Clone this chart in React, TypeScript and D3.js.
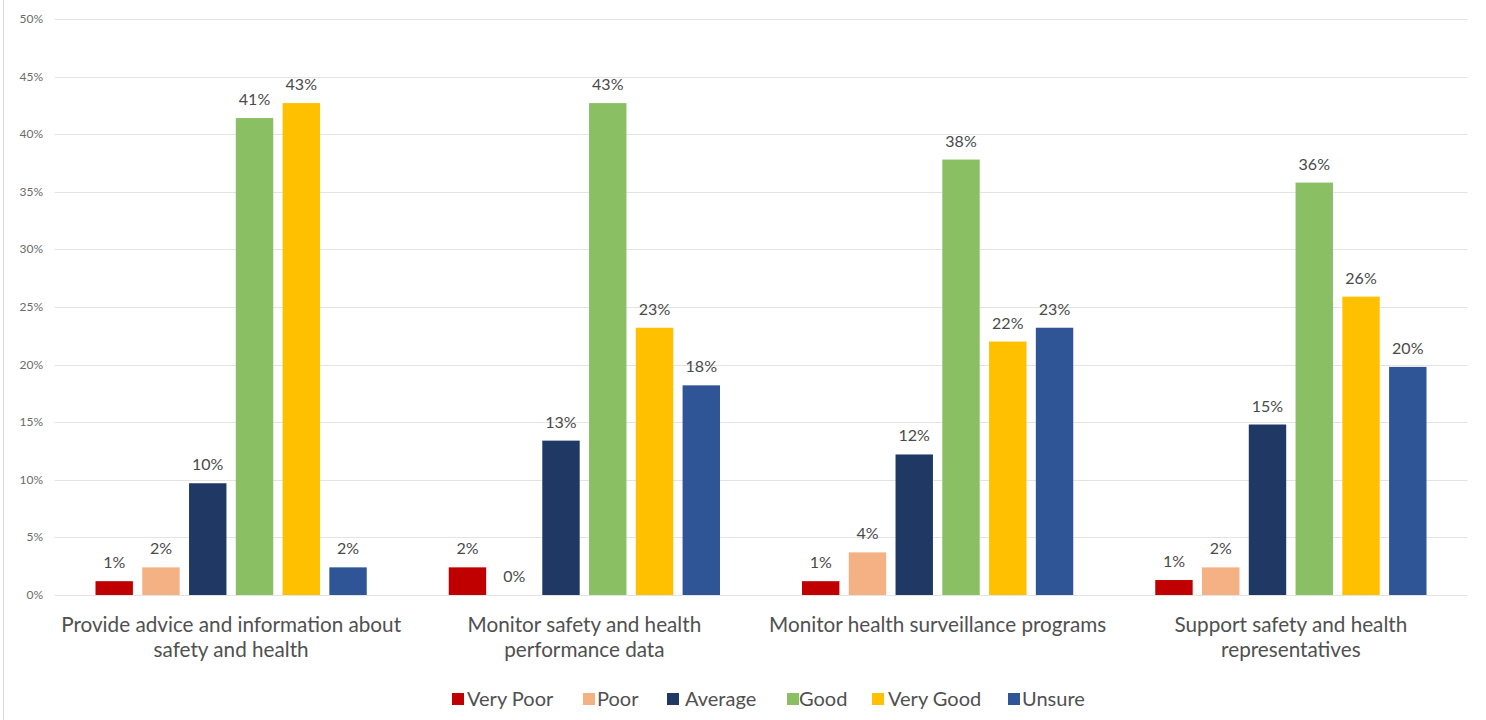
import React from "react";
import * as d3 from "d3";

const categories: string[][] = [
  ["Provide advice and information about", "safety and health"],
  ["Monitor safety and health", "performance data"],
  ["Monitor health surveillance programs"],
  ["Support safety and health", "representatives"],
];
const seriesNames = ["Very Poor", "Poor", "Average", "Good", "Very Good", "Unsure"];
const seriesColors = ["#C00000", "#F4B183", "#203864", "#8BBF63", "#FFC000", "#2F5597"];
const veryPoor = [1.2, 2.4, 1.2, 1.3];
const poor = [2.4, 0, 3.7, 2.4];
const average = [9.7, 13.4, 12.2, 14.8];
const good = [41.4, 42.7, 37.8, 35.8];
const veryGood = [42.7, 23.2, 22.0, 25.9];
const unsure = [2.4, 18.2, 23.2, 19.8];
const yTicks = [0, 5, 10, 15, 20, 25, 30, 35, 40, 45, 50];

const seriesValues = [veryPoor, poor, average, good, veryGood, unsure];

const W = 1486;
const H = 720;
const FONT = "Lato, 'Open Sans', sans-serif";

export default function App() {
  const x0 = d3.scaleBand<number>().domain(d3.range(categories.length)).range([54.5, 1467.5]).padding(0);
  const bw = x0.bandwidth();
  const x1 = d3
    .scaleBand<number>()
    .domain(d3.range(seriesNames.length))
    .range([41, bw - 41])
    .paddingInner(0.2)
    .paddingOuter(0);
  const y = d3.scaleLinear().domain([0, 50]).range([595, 19]);

  const legendSq = [452, 583, 667, 787, 872, 1008];
  const legendTx = [467, 597, 685, 799, 888, 1022];

  return (
    <svg
      width={W}
      height={H}
      style={{ position: "absolute", left: 0, top: 0, background: "#fff", fontFamily: FONT }}
    >
      <rect x={0} y={0} width={W} height={H} fill="#fff" />
      <line x1={3.5} x2={3.5} y1={0} y2={H} stroke="#D9D9D9" strokeWidth={1} />
      {yTicks.map((t) => (
        <g key={t}>
          <line x1={54.5} x2={1467.5} y1={Math.round(y(t)) + 0.5} y2={Math.round(y(t)) + 0.5} stroke="#E3E3E3" strokeWidth={1} />
          <text x={43} y={y(t) + 4} textAnchor="end" fontSize={12} fill="#6B6B6B">
            {t}%
          </text>
        </g>
      ))}
      {categories.map((cat, ci) => (
        <g key={ci} transform={`translate(${x0(ci)},0)`}>
          {seriesValues.map((vals, si) => {
            const v = vals[ci];
            const bx = x1(si)!;
            return (
              <g key={si}>
                <rect x={bx} y={y(v)} width={x1.bandwidth()} height={y(0) - y(v)} fill={seriesColors[si]} />
                <text x={bx + x1.bandwidth() / 2} y={y(v) - 13} textAnchor="middle" fontSize={16} fill="#4A4A4A">
                  {Math.round(v)}%
                </text>
              </g>
            );
          })}
          {cat.map((line, li) => (
            <text key={li} x={bw / 2} y={632 + li * 25} textAnchor="middle" fontSize={20.7} fill="#505050">
              {line}
            </text>
          ))}
        </g>
      ))}
      {seriesNames.map((s, si) => (
        <g key={s}>
          <rect x={legendSq[si]} y={693} width={12} height={12} fill={seriesColors[si]} />
          <text x={legendTx[si]} y={706} fontSize={20} fill="#505050">
            {s}
          </text>
        </g>
      ))}
    </svg>
  );
}
